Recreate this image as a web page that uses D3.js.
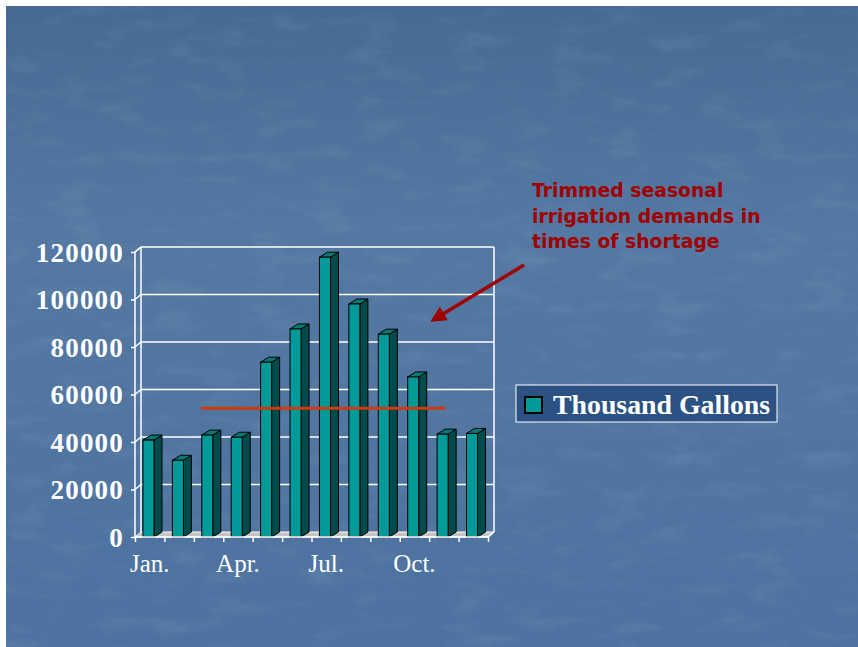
<!DOCTYPE html>
<html>
<head>
<meta charset="utf-8">
<script src="https://cdn.jsdelivr.net/npm/d3@7"></script>
<style>
  body { margin: 0; background: #fff; }
  svg { display: block; }
</style>
</head>
<body>
<svg id="chart" width="858" height="647"></svg>
<script>
// monthly irrigation demand (thousand gallons)
var months = ["Jan.", "Feb.", "Mar.", "Apr.", "May", "Jun.", "Jul.", "Aug.", "Sep.", "Oct.", "Nov.", "Dec."];
var shownLabels = ["Jan.", "Apr.", "Jul.", "Oct."];
var demand = [40800, 32300, 42900, 42000, 73600, 87600, 117800, 98100, 85400, 67400, 43300, 43600];
var yTicks = [0, 20000, 40000, 60000, 80000, 100000, 120000];
var seriesName = "Thousand Gallons";
// trimmed demand line: level and the span it covers (in month units)
var trimLevel = 54200;
var trimSpan = [2.25, 10.55];
var noteLines = ["Trimmed seasonal", "irrigation demands in", "times of shortage"];

var svg = d3.select("#chart");

// slide background
var defs = svg.append("defs");
var grad = defs.append("linearGradient").attr("id", "bg").attr("x1", 0).attr("y1", 0).attr("x2", 0).attr("y2", 1);
grad.append("stop").attr("offset", "0%").attr("stop-color", "#466a92");
grad.append("stop").attr("offset", "35%").attr("stop-color", "#5378a2");
grad.append("stop").attr("offset", "100%").attr("stop-color", "#4d72a0");

var filt = defs.append("filter").attr("id", "grain").attr("x", 0).attr("y", 0).attr("width", 1).attr("height", 1);
filt.append("feTurbulence").attr("type", "fractalNoise").attr("baseFrequency", "0.02 0.06").attr("numOctaves", 4).attr("seed", 4).attr("result", "n");
filt.append("feColorMatrix").attr("in", "n").attr("type", "matrix")
    .attr("values", "0 0 0 0 1  0 0 0 0 1  0 0 0 0 1  0 0 0 1.4 -0.7");

var arrowM = defs.append("marker").attr("id", "arrowhead")
    .attr("viewBox", "0 0 10 10").attr("refX", 8).attr("refY", 5)
    .attr("markerWidth", 5).attr("markerHeight", 4.5).attr("orient", "auto")
    .attr("markerUnits", "strokeWidth");
arrowM.append("path").attr("d", "M0,0L10,5L0,10z").attr("fill", "#a00000");

svg.append("rect").attr("x", 6).attr("y", 6).attr("width", 852).attr("height", 641).attr("fill", "url(#bg)");
svg.append("rect").attr("x", 6).attr("y", 6).attr("width", 852).attr("height", 641)
    .attr("fill", "#fff").attr("filter", "url(#grain)").attr("opacity", 0.12);

// chart geometry
var plotLeft = 135, plotRight = 488, plotBottom = 537, plotTop = 252;
var wallDx = 6, wallDy = -5;
var barDx = 8, barDy = -5;

var x = d3.scaleBand().domain(months).range([plotLeft, plotRight]).paddingInner(0).paddingOuter(0);
var xi = d3.scaleLinear().domain([0, months.length]).range([plotLeft, plotRight]);
var y = d3.scaleLinear().domain([0, 120000]).range([plotBottom, plotTop]);

var g = svg.append("g");

// floor
g.append("path")
    .attr("d", "M" + plotLeft + "," + plotBottom + "L" + (plotLeft + wallDx) + "," + (plotBottom + wallDy) +
      "L" + (plotRight + wallDx) + "," + (plotBottom + wallDy) + "L" + plotRight + "," + plotBottom + "Z")
    .attr("fill", "#c4c4c4").attr("stroke", "#fff").attr("stroke-width", 1);

// back wall grid
g.selectAll(".grid").data(yTicks.slice(1)).enter().append("line")
    .attr("x1", plotLeft + wallDx).attr("x2", plotRight + wallDx)
    .attr("y1", function(d) { return y(d) + wallDy; })
    .attr("y2", function(d) { return y(d) + wallDy; })
    .attr("stroke", "#fff").attr("stroke-width", 1.5);
// side wall grid
g.selectAll(".sgrid").data(yTicks.slice(1)).enter().append("line")
    .attr("x1", plotLeft).attr("x2", plotLeft + wallDx)
    .attr("y1", function(d) { return y(d); })
    .attr("y2", function(d) { return y(d) + wallDy; })
    .attr("stroke", "#fff").attr("stroke-width", 1.5);
g.append("line").attr("x1", plotLeft + wallDx).attr("x2", plotLeft + wallDx)
    .attr("y1", y(0) + wallDy).attr("y2", y(120000) + wallDy)
    .attr("stroke", "#fff").attr("stroke-width", 1.5);
g.append("line").attr("x1", plotRight + wallDx).attr("x2", plotRight + wallDx)
    .attr("y1", y(0) + wallDy).attr("y2", y(120000) + wallDy)
    .attr("stroke", "#fff").attr("stroke-width", 1.5);

// bars
var bw = x.bandwidth();
var bars = g.selectAll(".bar").data(demand).enter().append("g").attr("class", "bar");
function bx(i) { return x(months[i]) + bw * 0.27; }
var fw = bw * 0.375;
bars.append("path") // side
    .attr("d", function(d, i) {
      var x0 = bx(i) + fw;
      return "M" + x0 + "," + y(0) + "L" + x0 + "," + y(d) + "L" + (x0 + barDx) + "," + (y(d) + barDy) +
        "L" + (x0 + barDx) + "," + (y(0) + barDy) + "Z";
    })
    .attr("fill", "#004c4c").attr("stroke", "#000").attr("stroke-width", 1).attr("stroke-linejoin", "round");
bars.append("path") // top
    .attr("d", function(d, i) {
      var x0 = bx(i);
      return "M" + x0 + "," + y(d) + "L" + (x0 + barDx) + "," + (y(d) + barDy) + "L" + (x0 + fw + barDx) + "," + (y(d) + barDy) +
        "L" + (x0 + fw) + "," + y(d) + "Z";
    })
    .attr("fill", "#007a72").attr("stroke", "#000").attr("stroke-width", 1).attr("stroke-linejoin", "round");
bars.append("rect") // front
    .attr("x", function(d, i) { return bx(i); })
    .attr("y", function(d) { return y(d); })
    .attr("width", fw)
    .attr("height", function(d) { return y(0) - y(d); })
    .attr("fill", "#009a99").attr("stroke", "#000").attr("stroke-width", 1);

// y axis
var yAxis = g.append("g").attr("transform", "translate(" + plotLeft + ",0)")
    .call(d3.axisLeft(y).tickValues(yTicks).tickSize(4).tickPadding(7).tickFormat(d3.format("d")));
yAxis.select(".domain").attr("stroke", "#fff").attr("stroke-width", 1.5)
    .attr("d", "M0," + plotBottom + "V" + plotTop + "l" + wallDx + "," + wallDy);
yAxis.selectAll(".tick line").attr("stroke", "#fff").attr("stroke-width", 1.5);
yAxis.selectAll(".tick text").attr("fill", "#fff")
    .style("font-family", "'Liberation Serif', 'Times New Roman', serif")
    .style("font-size", "27px").style("font-weight", "bold").style("letter-spacing", "1.2px")
    .attr("dy", "0.34em");

// x axis
var xAxis = g.append("g").attr("transform", "translate(0," + plotBottom + ")")
    .call(d3.axisBottom(xi).ticks(months.length).tickSize(5).tickFormat(""));
xAxis.select(".domain").attr("stroke", "#fff").attr("stroke-width", 1.5)
    .attr("d", "M" + plotLeft + ",0H" + plotRight + "l" + wallDx + "," + wallDy);
xAxis.selectAll(".tick line").attr("stroke", "#fff").attr("stroke-width", 1.5);

g.selectAll(".xlab").data(shownLabels).enter().append("text")
    .attr("x", function(d) { return x(d) + bw / 2; })
    .attr("y", plotBottom + 35)
    .attr("text-anchor", "middle").attr("fill", "#fff")
    .style("font-family", "'Liberation Serif', 'Times New Roman', serif")
    .style("font-size", "25px")
    .text(function(d) { return d; });

// trimmed demand line
g.append("line")
    .attr("x1", xi(trimSpan[0])).attr("x2", xi(trimSpan[1]))
    .attr("y1", y(trimLevel)).attr("y2", y(trimLevel))
    .attr("stroke", "#d03a0c").attr("stroke-width", 3);

// legend
var leg = svg.append("g").attr("transform", "translate(516,385)");
leg.append("rect").attr("width", 261).attr("height", 37).attr("fill", "#2c5283").attr("stroke", "#fff").attr("stroke-width", 1);
leg.append("rect").attr("x", 9).attr("y", 12).attr("width", 17).attr("height", 16)
    .attr("fill", "#009a99").attr("stroke", "#000").attr("stroke-width", 2);
leg.append("text").attr("x", 37).attr("y", 29).attr("fill", "#fff")
    .style("font-family", "'Liberation Serif', 'Times New Roman', serif")
    .style("font-size", "27.8px").style("font-weight", "bold")
    .text(seriesName);

// annotation
var note = svg.append("text").attr("x", 532).attr("y", 197).attr("fill", "#a00000")
    .style("font-family", "'DejaVu Sans', Verdana, sans-serif")
    .style("font-size", "18.8px").style("font-weight", "bold");
note.selectAll("tspan").data(noteLines).enter().append("tspan")
    .attr("x", 532).attr("dy", function(d, i) { return i === 0 ? 0 : 25.5; })
    .text(function(d) { return d; });

svg.append("line").attr("x1", 524).attr("y1", 265).attr("x2", 433).attr("y2", 320)
    .attr("stroke", "#a00000").attr("stroke-width", 3.5).attr("marker-end", "url(#arrowhead)");
</script>
</body>
</html>
